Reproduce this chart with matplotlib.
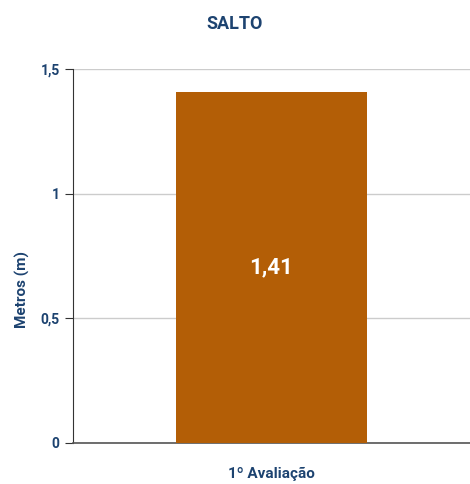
import matplotlib
matplotlib.use("Agg")
import matplotlib.pyplot as plt
from matplotlib.ticker import FuncFormatter

categorias = ["1º Avaliação"]
valores = [1.41]
yticks = [0, 0.5, 1, 1.5]

navy = "#1d4370"
plt.rcParams['font.family'] = ['Roboto', 'DejaVu Sans']

fig = plt.figure(figsize=(4.7, 4.84), dpi=100)
ax = fig.add_axes([0.155, 0.085, 0.845, 0.772])

bars = ax.bar(categorias, valores, width=0.48, color="#b35e06", zorder=3)
for b, v in zip(bars, valores):
    ax.text(b.get_x() + b.get_width() / 2, v / 2, f"{v:.2f}".replace(".", ","),
            ha="center", va="center", color="white", fontsize=16, fontweight="bold", zorder=4)

ax.set_xlim(-0.5, 0.5)
ax.set_ylim(0, 1.5)
ax.set_yticks(yticks)
ax.yaxis.set_major_formatter(FuncFormatter(lambda v, p: f"{v:g}".replace(".", ",")))
ax.grid(axis="y", color="#cccccc", linewidth=1, zorder=0)

for s in ["top", "right"]:
    ax.spines[s].set_visible(False)
ax.spines["left"].set_color("#333333")
ax.spines["bottom"].set_color("#555555")
ax.spines["bottom"].set_linewidth(1.2)

ax.tick_params(axis="y", length=6, color="#333333", labelcolor=navy, labelsize=10)
ax.tick_params(axis="x", length=0, pad=17, labelcolor=navy, labelsize=11)
for lab in ax.get_yticklabels() + ax.get_xticklabels():
    lab.set_fontweight("bold")

ax.set_ylabel("Metros (m)", color=navy, fontsize=11, fontweight="bold")
ax.yaxis.set_label_coords(-0.108, 0.41)
fig.suptitle("SALTO", color=navy, fontsize=13, fontweight="bold", y=0.97)

fig.savefig("out.png", dpi=100)
